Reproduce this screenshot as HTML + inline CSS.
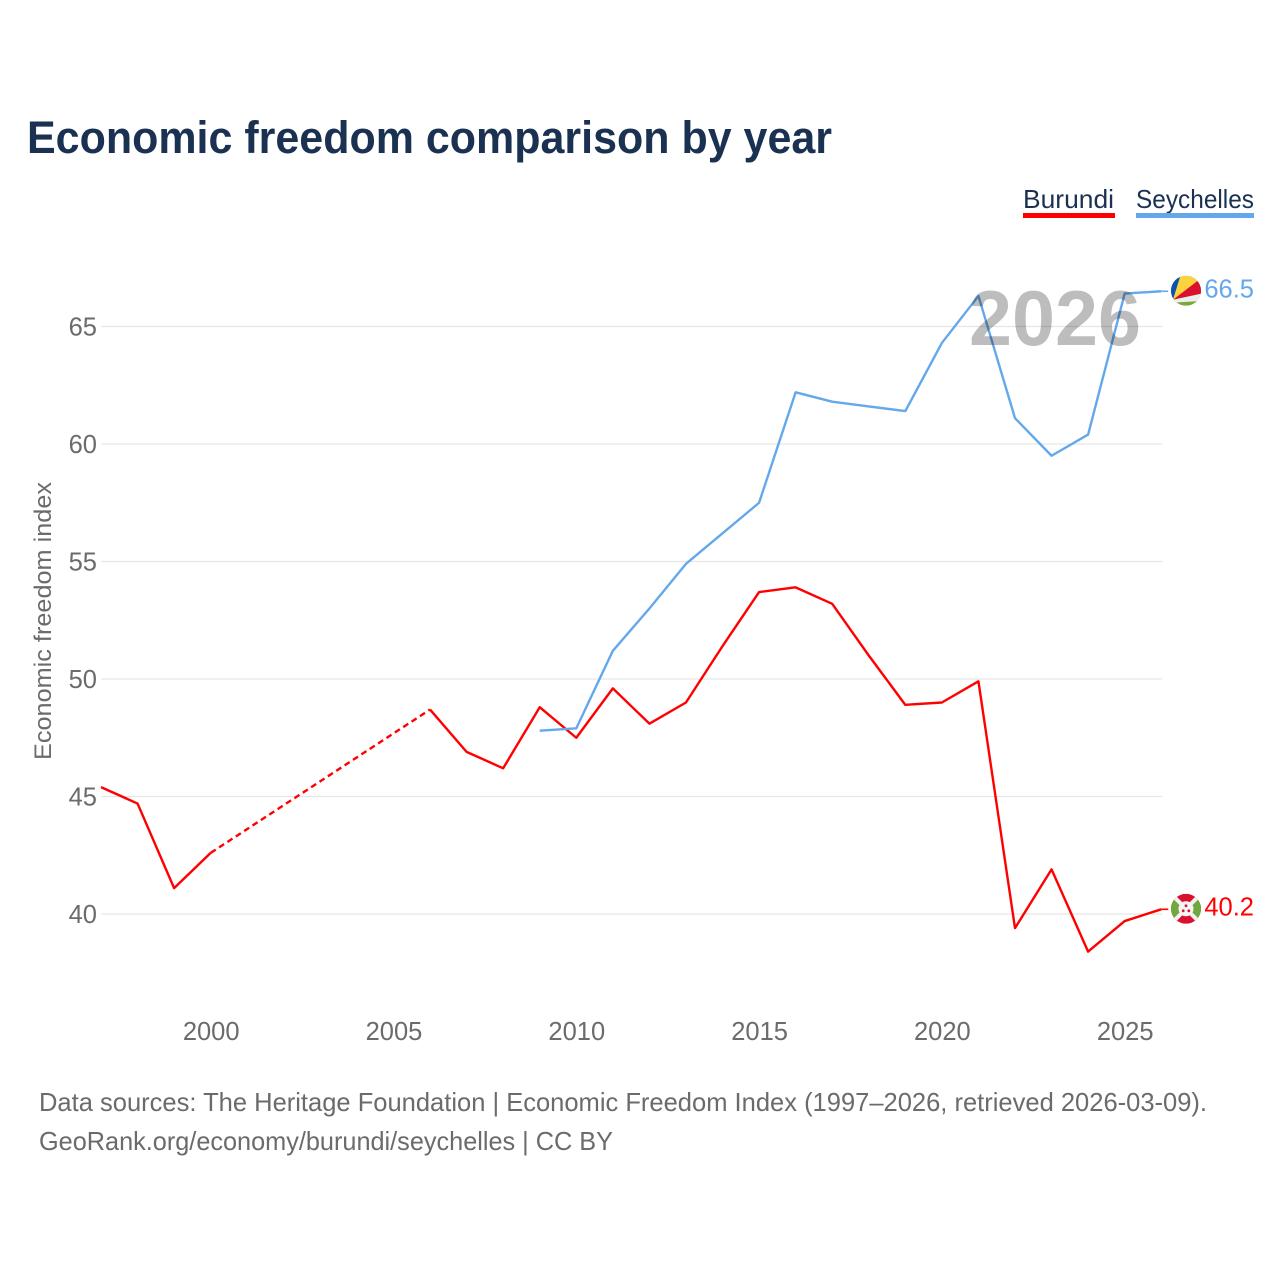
<!DOCTYPE html>
<html lang="en">
<head>
<meta charset="utf-8">
<title>Economic freedom comparison by year</title>
<style>
html,body{margin:0;padding:0;background:#fff;width:1280px;height:1280px;overflow:hidden}
svg{display:block}
text{font-family:"Liberation Sans",sans-serif}
</style>
</head>
<body>
<svg id="chart" width="1280" height="1280" viewBox="0 0 1280 1280" xmlns="http://www.w3.org/2000/svg">
  <defs>
    <clipPath id="flag-clip"><circle cx="0" cy="0" r="15"/></clipPath>
  </defs>
  <rect width="1280" height="1280" fill="#fff"/>
  <text x="27" y="153" font-size="45" font-weight="700" fill="#1a3152" textLength="805" lengthAdjust="spacingAndGlyphs">Economic freedom comparison by year</text>

  <g>
    <text x="1023" y="208" font-size="26" fill="#1a3152" textLength="91" lengthAdjust="spacingAndGlyphs">Burundi</text>
    <rect x="1023" y="213" width="92" height="5" fill="#ff0000"/>
  </g>
  <g>
    <text x="1136" y="208" font-size="26" fill="#1a3152" textLength="118" lengthAdjust="spacingAndGlyphs">Seychelles</text>
    <rect x="1136" y="213" width="118" height="5" fill="#64a8ec"/>
  </g>

  <g id="grid"></g>
  <g id="y-ticks"></g>
  <g id="x-ticks"></g>
  <text transform="translate(51,760) rotate(-90)" font-size="24.5" fill="#6b6b6b" textLength="278" lengthAdjust="spacingAndGlyphs">Economic freedom index</text>

  <g id="series"></g>

  <text x="969" y="345" font-size="78" font-weight="700" fill="#000" fill-opacity="0.26" textLength="172" lengthAdjust="spacingAndGlyphs">2026</text>

  <g id="flag-seychelles">
    <g clip-path="url(#flag-clip)">
      <rect x="-15" y="-15" width="30" height="30" fill="#7aa83c"/>
      <polygon points="-15,-20 -4,-20 -13,9 -15,9" fill="#0a52b0"/>
      <polygon points="-13,9 -4,-20 20,-20 13,-10" fill="#fdd23f"/>
      <polygon points="-13,9 13,-11 20,-8 20,2" fill="#d9112f"/>
      <polygon points="-15,9 -13,9 20,2 20,10 -15,12" fill="#eeeeee"/>
    </g>
  </g>
  <g id="flag-burundi">
    <g clip-path="url(#flag-clip)">
      <rect x="-15" y="-15" width="30" height="30" fill="#d9112f"/>
      <polygon points="-15,-15 0,0 -15,15" fill="#6fa83e"/>
      <polygon points="15,-15 0,0 15,15" fill="#6fa83e"/>
      <line x1="-15" y1="-15" x2="15" y2="15" stroke="#f2f2f2" stroke-width="4"/>
      <line x1="15" y1="-15" x2="-15" y2="15" stroke="#f2f2f2" stroke-width="4"/>
      <circle cx="0" cy="0" r="7.5" fill="#f5f5f5"/>
      <circle cx="0" cy="-3" r="1.4" fill="#d9112f"/>
      <circle cx="-2.8" cy="2" r="1.4" fill="#d9112f"/>
      <circle cx="2.8" cy="2" r="1.4" fill="#d9112f"/>
    </g>
  </g>

  <text x="39" y="1111" font-size="26" fill="#6b6b6b" textLength="1168" lengthAdjust="spacingAndGlyphs">Data sources: The Heritage Foundation | Economic Freedom Index (1997–2026, retrieved 2026-03-09).</text>
  <text x="39" y="1150" font-size="26" fill="#6b6b6b" textLength="574" lengthAdjust="spacingAndGlyphs">GeoRank.org/economy/burundi/seychelles | CC BY</text>
</svg>
<script>
const years = [1997,1998,1999,2000,2001,2002,2003,2004,2005,2006,2007,2008,2009,2010,2011,2012,2013,2014,2015,2016,2017,2018,2019,2020,2021,2022,2023,2024,2025,2026];
const burundiValues = [45.4,44.7,41.1,42.6,null,null,null,null,null,48.7,46.9,46.2,48.8,47.5,49.6,48.1,49.0,51.4,53.7,53.9,53.2,51.0,48.9,49.0,49.9,39.4,41.9,38.4,39.7,40.2];
const seychellesValues = [null,null,null,null,null,null,null,null,null,null,null,null,47.8,47.9,51.2,53.0,54.9,56.2,57.5,62.2,61.8,61.6,61.4,64.3,66.3,61.1,59.5,60.4,66.4,66.5];
const yTickValues = [40,45,50,55,60,65];
const xTickValues = [2000,2005,2010,2015,2020,2025];

const NS = 'http://www.w3.org/2000/svg';
const xScale = function (year) { return 101 + (year - 1997) * 36.56; };
const yScale = function (value) { return 914 - (value - 40) * 23.5; };
const make = function (tag, parent, attrs) {
  const el = document.createElementNS(NS, tag);
  Object.keys(attrs).forEach(function (k) { el.setAttribute(k, attrs[k]); });
  parent.appendChild(el);
  return el;
};

const gridLayer = document.getElementById('grid');
const yTickLayer = document.getElementById('y-ticks');
yTickValues.forEach(function (v) {
  const line = make('line', gridLayer, {x1: 101, x2: 1162, y1: yScale(v), y2: yScale(v), stroke: '#e6e6e6', 'stroke-width': 1.2});
  
  
  const label = make('text', yTickLayer, {x: 97, y: yScale(v) + 9, 'text-anchor': 'end', 'font-size': 25.5, fill: '#6b6b6b'});
  label.textContent = String(v);
  
  
});

const xTickLayer = document.getElementById('x-ticks');
xTickValues.forEach(function (year) {
  const label = make('text', xTickLayer, {x: xScale(year) + 0.5, y: 1040, 'text-anchor': 'middle', 'font-size': 25.5, fill: '#6b6b6b'});
  label.textContent = String(year);
  
  
});

const seriesLayer = document.getElementById('series');
const drawSeries = function (name, values, color) {
  const group = make('g', seriesLayer, {});
  
  
  let run = [];
  let prev = null;
  const flush = function () {
    if (run.length > 1) {
      const solid = make('polyline', group, {points: run.join(' '), fill: 'none', stroke: color, 'stroke-width': 2.4, 'stroke-linejoin': 'round'});
      
      
    }
    run = [];
  };
  values.forEach(function (v, i) {
    if (v === null) { return; }
    const pt = [xScale(years[i]), yScale(v)];
    if (prev && i - prev.i > 1) {
      flush();
      const gap = make('line', group, {x1: prev.pt[0], y1: prev.pt[1], x2: pt[0], y2: pt[1], stroke: color, 'stroke-width': 2.4, 'stroke-dasharray': '6 4'});
      
      
    }
    run.push(pt[0] + ',' + pt[1]);
    prev = {i: i, pt: pt};
  });
  flush();
  const endValue = values[values.length - 1];
  const endX = xScale(years[years.length - 1]);
  const endY = yScale(endValue);
  const connector = make('line', group, {x1: endX, y1: endY, x2: endX + 7, y2: endY, stroke: color, 'stroke-width': 1.6});
  
  
  const endLabel = make('text', group, {x: 1254, y: endY + 6, 'text-anchor': 'end', 'font-size': 25.5, fill: color});
  endLabel.textContent = endValue.toFixed(1);
  
  
  document.getElementById('flag-' + name).setAttribute('transform', 'translate(1186,' + (endY - 0.5) + ')');
};
drawSeries('burundi', burundiValues, '#ff0000');
drawSeries('seychelles', seychellesValues, '#64a8ec');
</script>
</body>
</html>
